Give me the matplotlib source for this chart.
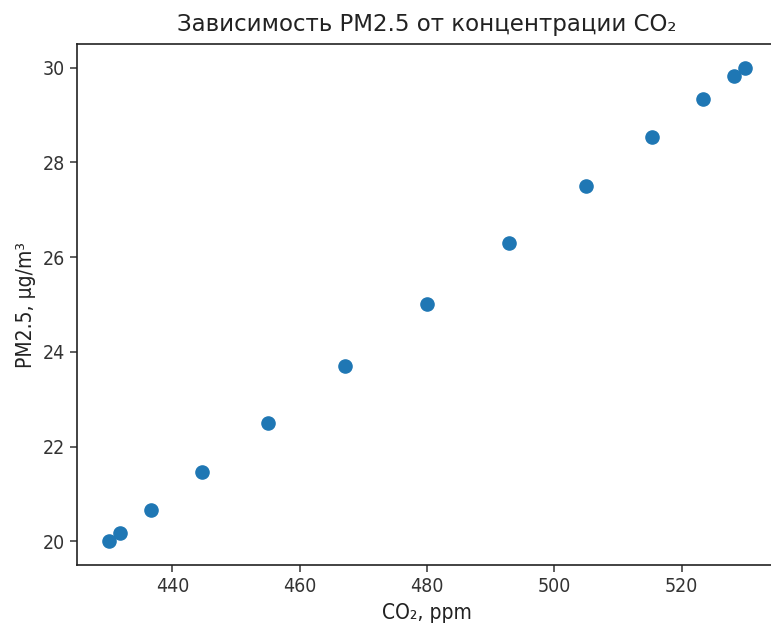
import matplotlib
matplotlib.use("Agg")
import matplotlib.pyplot as plt

# values
co2 = [430, 431.7, 436.7, 444.6, 455, 467.1, 480, 492.9, 505, 515.4, 523.3, 528.3, 530]
pm25 = [20, 20.17, 20.67, 21.46, 22.5, 23.71, 25, 26.29, 27.5, 28.54, 29.33, 29.83, 30]
xticks = [440, 460, 480, 500, 520]
yticks = [20, 22, 24, 26, 28, 30]

plt.rcParams['font.family'] = ['DejaVu Sans']
plt.rcParams['font.stretch'] = 'condensed'

fig = plt.figure(figsize=(7.71, 6.24), dpi=100)
# axes run past the right edge, as in the cropped original
ax = fig.add_axes([77 / 771, 1 - 565 / 624, 700 / 771, 521 / 624])

ax.scatter(co2, pm25, s=90, color='#1f77b4')
ax.set_xlim(425, 535)
ax.set_ylim(19.5, 30.5)
ax.set_xticks(xticks)
ax.set_yticks(yticks)
ax.tick_params(labelsize=14, length=5, width=1.1, colors='#333333')
for sp in ax.spines.values():
    sp.set_linewidth(1.2)
    sp.set_color('#222222')

ax.set_title('Зависимость PM2.5 от концентрации CO₂', fontsize=16.5,
             fontstretch='normal', pad=9, color='#222222')
ax.set_xlabel('CO₂, ppm', fontsize=15, labelpad=5, color='#222222')
ax.set_ylabel('PM2.5, µg/m³', fontsize=15, labelpad=5, color='#222222')

fig.savefig('out.png', dpi=100)
